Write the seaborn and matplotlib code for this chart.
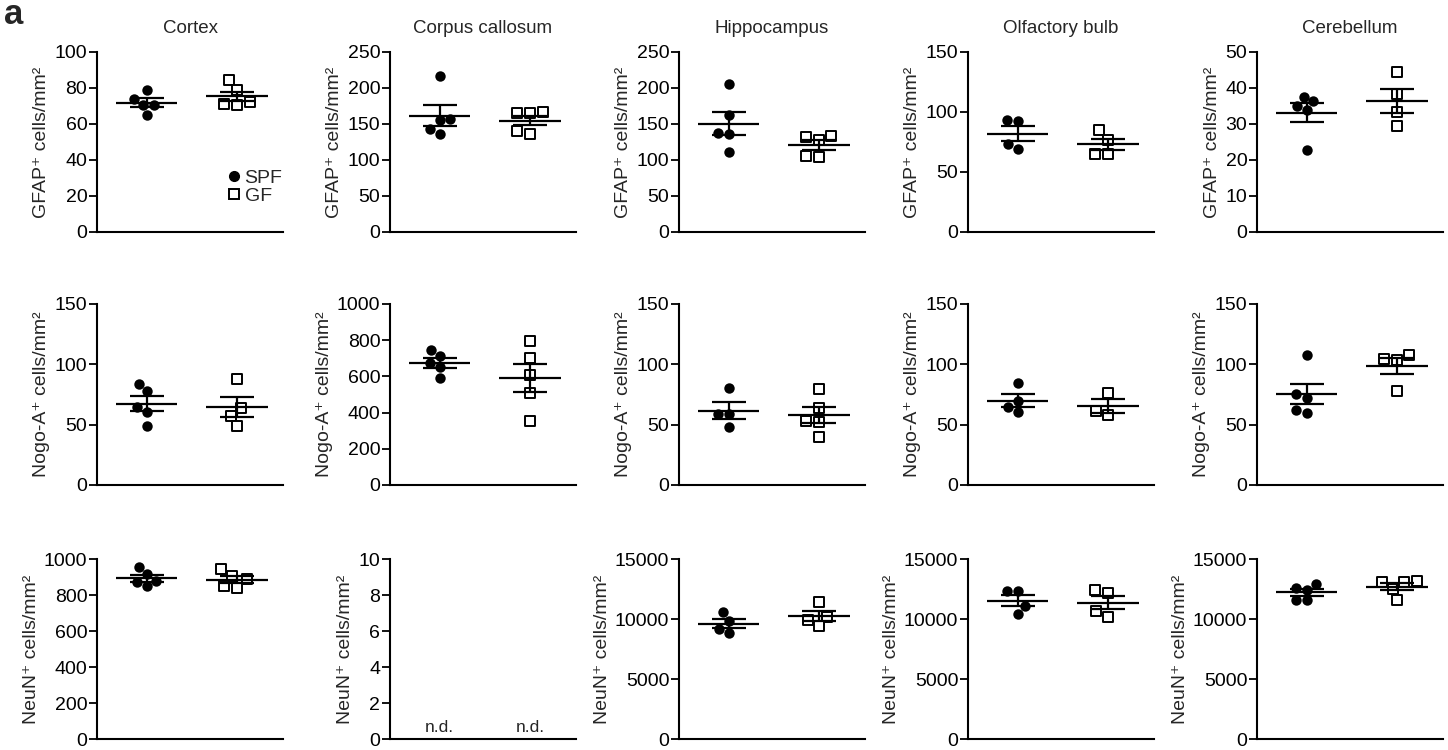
import numpy as np
import pandas as pd
import matplotlib
matplotlib.use("Agg")
import matplotlib.pyplot as plt
from matplotlib.lines import Line2D
import seaborn as sns

sns.set_style("ticks")
plt.rcParams['font.family'] = ['Liberation Sans', 'DejaVu Sans']

regions = ["Cortex", "Corpus callosum", "Hippocampus", "Olfactory bulb", "Cerebellum"]
groups = ["SPF", "GF"]
ylabels = ["GFAP\u207a cells/mm\u00b2", "Nogo-A\u207a cells/mm\u00b2", "NeuN\u207a cells/mm\u00b2"]

# GFAP+ (row 1)
gfap_spf = [
    [79.1, 70.7, 73.9, 70.6, 65.2],
    [216.2, 157.4, 155.1, 143.1, 136.1],
    [205.1, 162.0, 137.5, 136.1, 111.6],
    [93.1, 92.2, 69.4, 73.6],
    [37.6, 36.3, 35.1, 34.0, 22.9],
]
gfap_gf = [
    [84.3, 78.7, 72.0, 70.6, 71.3],
    [165.3, 165.3, 166.7, 136.6, 139.8],
    [131.9, 128.2, 133.8, 103.7, 105.1],
    [84.7, 76.9, 65.3, 65.3],
    [44.4, 38.3, 33.3, 29.4],
]
# Nogo-A+ (row 2)
nogo_spf = [
    [84.1, 77.8, 65.0, 60.3, 49.3],
    [747, 714, 673, 651, 592],
    [80.8, 58.7, 58.7, 48.4],
    [84.5, 69.4, 64.7, 60.6],
    [107.9, 75.1, 72.4, 60.0, 61.9],
]
nogo_gf = [
    [87.5, 64.0, 57.5, 48.5],
    [795, 701, 605, 507, 351],
    [79.7, 63.4, 53.4, 52.3, 40.1],
    [76.5, 58.4, 61.4],
    [104.3, 104.0, 107.9, 77.9],
]
# NeuN+ (row 3); corpus callosum not detected
neun_spf = [
    [955.6, 914.8, 879.6, 870.4, 848.1],
    [],
    [10556, 9833, 9194, 8833],
    [12333, 12333, 11056, 10444],
    [12611, 12444, 12944, 11611, 11556],
]
neun_gf = [
    [942.6, 903.7, 887.0, 840.7, 848.1],
    [],
    [11400, 10200, 9900, 9400],
    [12444, 12167, 10639, 10167],
    [13083, 13083, 13139, 12528, 11556],
]

ytops = [[100, 250, 250, 150, 50],
         [150, 1000, 150, 150, 150],
         [1000, 10, 15000, 15000, 15000]]
ysteps = [[20, 50, 50, 50, 10],
          [50, 200, 50, 50, 50],
          [200, 2, 5000, 5000, 5000]]

rows_spf = [gfap_spf, nogo_spf, neun_spf]
rows_gf = [gfap_gf, nogo_gf, neun_gf]

W, H = 1448, 750
fig = plt.figure(figsize=(W / 100, H / 100), dpi=100)

lefts = [97, 390, 679, 968, 1257]
axw = 186
row_px = [(52, 232), (304, 485), (559, 739)]

for r in range(3):
    for c in range(5):
        top, bot = row_px[r]
        ax = fig.add_axes([lefts[c] / W, 1 - bot / H, axw / W, (bot - top) / H])
        spf = rows_spf[r][c]
        gf = rows_gf[r][c]
        if len(spf):
            sns.swarmplot(x=["SPF"] * len(spf), y=spf, order=groups, ax=ax,
                          color="black", marker="o", size=7.5, zorder=2)
            sns.swarmplot(x=["GF"] * len(gf), y=gf, order=groups, ax=ax,
                          color="white", edgecolor="black", linewidth=1.4,
                          marker="s", size=7.5, zorder=2)
            for xi, vals in enumerate([spf, gf]):
                v = np.asarray(vals, dtype=float)
                m = v.mean()
                se = v.std(ddof=1) / np.sqrt(len(v))
                ax.hlines(m, xi - 0.34, xi + 0.34, color="black", lw=1.6, zorder=4)
                ax.hlines([m - se, m + se], xi - 0.19, xi + 0.19, color="black", lw=1.6, zorder=4)
                ax.vlines(xi, m - se, m + se, color="black", lw=1.6, zorder=4)
        else:
            ax.set_xticks([0, 1])
            for xi in range(2):
                ax.text(xi, 0.2, "n.d.", ha="center", va="bottom", fontsize=12.5)
        ax.set_xlim(-0.55, 1.51)
        ax.set_ylim(0, ytops[r][c])
        ax.set_yticks(np.arange(0, ytops[r][c] + 1e-9, ysteps[r][c]))
        ax.set_xticks([])
        ax.tick_params(axis="y", labelsize=14, length=6, width=1.3, pad=1, colors="black")
        for s in ["left", "bottom"]:
            ax.spines[s].set_linewidth(1.5)
            ax.spines[s].set_color("black")
        sns.despine(ax=ax)
        ax.set_ylabel(ylabels[r], fontsize=14, labelpad=3)
        ax.set_xlabel("")
        if r == 0:
            ax.set_title(regions[c], fontsize=13.5, pad=14)
        if r == 0 and c == 0:
            handles = [
                Line2D([], [], marker="o", ls="none", color="black", markersize=7),
                Line2D([], [], marker="s", ls="none", markerfacecolor="white",
                       markeredgecolor="black", markeredgewidth=1.4, markersize=7),
            ]
            ax.legend(handles, groups, loc="upper left", bbox_to_anchor=(0.71, 0.35),
                      frameon=False, fontsize=14, handlelength=0.5, handletextpad=0.3,
                      labelspacing=0.02, borderpad=0, borderaxespad=0)

fig.text(4 / W, 1 - 14 / H, "a", fontsize=25, fontweight="bold", va="center", ha="left")

fig.savefig("out.png", dpi=100)
